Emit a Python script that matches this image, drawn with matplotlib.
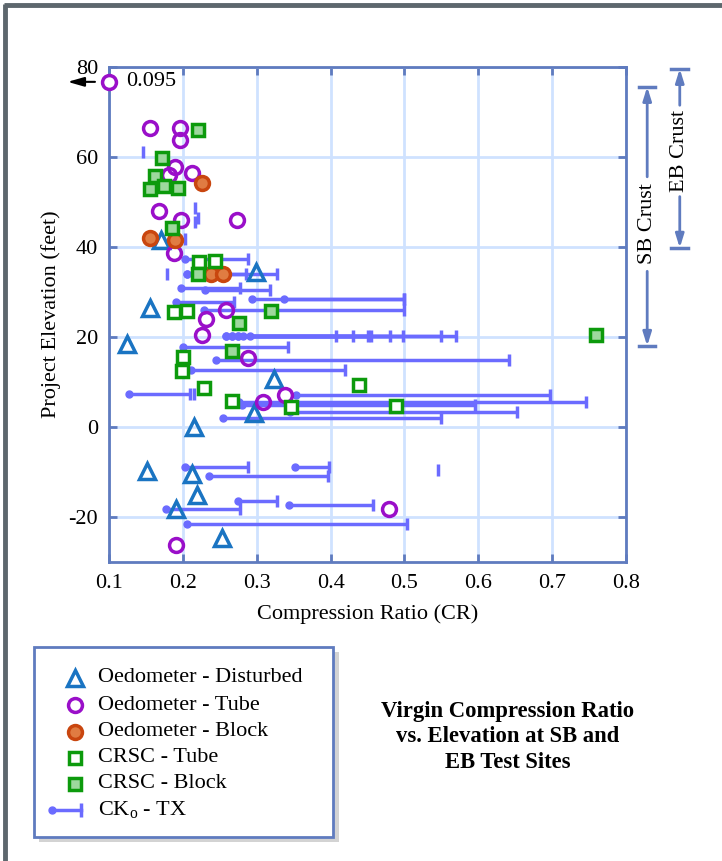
import numpy as np
import matplotlib
matplotlib.use("Agg")
import matplotlib.pyplot as plt
from matplotlib.patches import Rectangle

plt.rcParams['font.family'] = ['Liberation Serif', 'DejaVu Serif']
plt.rcParams['mathtext.fontset'] = 'custom'
plt.rcParams['mathtext.rm'] = 'Liberation Serif'
plt.rcParams['mathtext.it'] = 'Liberation Serif:italic'
plt.rcParams['axes.unicode_minus'] = False

# ---------------- data ----------------
dist_x = [0.171, 0.299, 0.156, 0.125, 0.323, 0.296, 0.215, 0.152, 0.212, 0.219, 0.191, 0.253]
dist_y = [41.5, 34.4, 26.5, 18.4, 10.6, 3.0, 0.0, -9.8, -10.5, -15.1, -18.3, -24.6]

otube_x = [0.156, 0.196, 0.196, 0.190, 0.181, 0.212, 0.168, 0.198, 0.273, 0.188,
           0.258, 0.231, 0.226, 0.288, 0.338, 0.309, 0.479, 0.191]
otube_y = [66.5, 66.5, 63.8, 57.8, 55.9, 56.4, 48.0, 46.0, 45.9, 38.6,
           25.9, 23.9, 20.4, 15.3, 7.1, 5.6, -18.3, -26.3]

oblock_x = [0.226, 0.155, 0.189, 0.238, 0.255]
oblock_y = [54.3, 41.9, 41.5, 34.1, 34.1]

ctube_x = [0.222, 0.244, 0.188, 0.205, 0.200, 0.199, 0.229, 0.266, 0.346, 0.439, 0.488]
ctube_y = [36.7, 36.9, 25.6, 25.7, 15.6, 12.4, 8.7, 5.8, 4.5, 9.3, 4.7]

cblock_x = [0.221, 0.172, 0.162, 0.175, 0.156, 0.193, 0.185, 0.220, 0.319, 0.276, 0.266, 0.759]
cblock_y = [66.0, 59.8, 55.8, 53.6, 52.8, 53.0, 44.2, 33.9, 25.7, 23.0, 16.9, 20.4]

# CKo - TX ranges (start dot -> end cap); nan start = cap only
ck_y = [37.3, 34.1, 34.1, 34.1, 30.8, 30.5, 27.8, 28.4, 28.4, 26.1,
        20.2, 20.2, 20.2, 20.2, 20.2, 20.2, 20.2, 20.2,
        17.8, 14.8, 12.7, 7.3, 7.3, 7.2, 5.6, 4.9, 3.3, 2.1,
        -9.0, -9.0, -10.9, -9.6, -16.4, -17.3, -18.3, -21.5,
        41.7, 61.0, 48.6, 46.4, 45.6]
ck_start = [0.203, 0.205, 0.205, np.nan, 0.197, 0.230, 0.191, 0.294, 0.337, 0.229,
            0.259, 0.267, 0.275, 0.282, 0.291, 0.259, 0.267, 0.275,
            0.200, 0.245, 0.211, 0.127, np.nan, 0.353, 0.276, 0.280, 0.345, 0.255,
            0.203, 0.352, 0.235, np.nan, 0.275, 0.344, 0.177, 0.205,
            0.189, np.nan, np.nan, np.nan, np.nan]
ck_end = [0.288, 0.286, 0.327, 0.178, 0.277, 0.318, 0.269, 0.500, 0.500, 0.500,
          0.408, 0.431, 0.451, 0.455, 0.481, 0.498, 0.549, 0.570,
          0.343, 0.641, 0.420, 0.209, 0.215, 0.697, 0.746, 0.595, 0.653, 0.550,
          0.288, 0.398, 0.396, 0.546, 0.328, 0.457, 0.277, 0.504,
          0.203, 0.146, 0.216, 0.220, 0.216]

# off-scale point
off_x, off_y, off_label = 0.1, 76.7, "0.095"

xticks = [0.1, 0.2, 0.3, 0.4, 0.5, 0.6, 0.7, 0.8]
yticks = [-20, 0, 20, 40, 60, 80]

legend_labels = ["Oedometer - Disturbed", "Oedometer - Tube", "Oedometer - Block",
                 "CRSC - Tube", "CRSC - Block", "CK$_{\\mathrm{o}}$ - TX"]
title_lines = "Virgin Compression Ratio\nvs. Elevation at SB and\nEB Test Sites"

# crust ranges (elevation)
sb_crust = (18.0, 75.6)
eb_crust = (39.8, 79.6)

# ---------------- styles ----------------
SPINE = '#5f7bbf'
GRID = '#cfe2ff'
BLUE = '#1a74c2'
PURPLE = '#9a0fc9'
OR_FACE = '#e07c42'
OR_EDGE = '#c9460f'
GREEN = '#0c9a0c'
LGREEN = '#9dd89d'
CK = '#6b6bff'
FS = 16

W, H = 722, 861
fig = plt.figure(figsize=(W / 100, H / 100), dpi=100)

# overlay axes in pixel coordinates
ov = fig.add_axes([0, 0, 1, 1], zorder=0)
ov.set_xlim(0, W)
ov.set_ylim(H, 0)
ov.axis('off')

ax = fig.add_axes([109 / W, 1 - 562 / H, (626 - 109) / W, (562 - 67) / H], zorder=2)
ax.set_xlim(0.1, 0.8)
ax.set_ylim(-30, 80)
ax.set_xticks(xticks)
ax.set_xticklabels([f"{v:g}" for v in xticks])
ax.set_yticks(yticks)
ax.grid(True, color=GRID, lw=2, zorder=0)
ax.set_axisbelow(True)
for s in ax.spines.values():
    s.set_color(SPINE)
    s.set_linewidth(2)
ax.tick_params(direction='in', length=6, width=2, color=SPINE, top=True, right=True,
               labelsize=FS, pad=8)
ax.tick_params(axis='x', pad=9)
ax.set_xlabel("Compression Ratio (CR)", fontsize=FS, labelpad=8)
ax.set_ylabel("Project Elevation (feet)", fontsize=FS, labelpad=5)

# CK0 lines
for y, a, b in zip(ck_y, ck_start, ck_end):
    if not np.isnan(a):
        ax.plot([a, b], [y, y], color=CK, lw=2.5, zorder=2, solid_capstyle='butt')
        ax.plot([a], [y], 'o', color=CK, ms=5, zorder=2)
    ax.plot([b], [y], '|', color=CK, ms=9, mew=2.5, zorder=2)

ms = 10
ax.plot(dist_x, dist_y, '^', ls='none', mfc='none', mec=BLUE, mew=2.5, ms=11, zorder=3)
ax.plot(otube_x, otube_y, 'o', ls='none', mfc='none', mec=PURPLE, mew=2.5, ms=ms, zorder=3)
ax.plot(oblock_x, oblock_y, 'o', ls='none', mfc=OR_FACE, mec=OR_EDGE, mew=2.5, ms=ms, zorder=3)
ax.plot(ctube_x, ctube_y, 's', ls='none', mfc='white', mec=GREEN, mew=2.5, ms=9, zorder=3)
ax.plot(cblock_x, cblock_y, 's', ls='none', mfc=LGREEN, mec=GREEN, mew=2.5, ms=9, zorder=3)

# off-scale point
ax.plot([off_x], [off_y], 'o', mfc='white', mec=PURPLE, mew=2.5, ms=ms, zorder=5, clip_on=False)
ax.annotate("", xy=(0.044, off_y), xytext=(0.081, off_y),
            arrowprops=dict(arrowstyle='-|>,head_width=0.2,head_length=0.7',
                            color='black', lw=1.5, shrinkA=0, shrinkB=0,
                            mutation_scale=14), annotation_clip=False)
ax.text(0.123, off_y, off_label, fontsize=FS, va='center', ha='left')

# crust annotations
tr = ax.get_yaxis_transform()


def crust(xa, lo, hi, text, tlo, thi):
    mid = 0.5 * (tlo + thi)
    ax.text(xa, mid, text, rotation=90, fontsize=FS, ha='center', va='center',
            transform=tr, clip_on=False)
    for start, end in [(thi, hi), (tlo, lo)]:
        ax.annotate("", xy=(xa, end), xytext=(xa, start), xycoords=tr, textcoords=tr,
                    arrowprops=dict(arrowstyle='-|>,head_width=0.25,head_length=0.8',
                                    color=SPINE, lw=2, shrinkA=0, shrinkB=0),
                    annotation_clip=False)
        ax.plot([xa - 0.016, xa + 0.016], [end, end], color=SPINE, lw=2.5,
                transform=tr, clip_on=False)


crust(1.041, sb_crust[0], sb_crust[1], "SB Crust", 34.6, 55.6)
crust(1.104, eb_crust[0], eb_crust[1], "EB Crust", 51.2, 71.5)

# outer frame
ov.plot([4, W], [5, 5], color='#5d676d', lw=3.5, solid_capstyle='butt')
ov.plot([5, 5], [4, H], color='#5d676d', lw=3.5, solid_capstyle='butt')

# legend box
ov.add_patch(Rectangle((39, 652), 300, 190, facecolor='#d3d3d3', edgecolor='none', zorder=1))
ov.add_patch(Rectangle((34, 647), 299, 190, facecolor='white', edgecolor=SPINE, lw=2, zorder=2))
rows = [678, 705, 732, 758, 784, 810]
mx, tx = 75, 98
ov.plot([mx], [rows[0]], '^', mfc='none', mec=BLUE, mew=2.5, ms=11, zorder=3)
ov.plot([mx], [rows[1]], 'o', mfc='none', mec=PURPLE, mew=2.5, ms=ms, zorder=3)
ov.plot([mx], [rows[2]], 'o', mfc=OR_FACE, mec=OR_EDGE, mew=2.5, ms=ms, zorder=3)
ov.plot([mx], [rows[3]], 's', mfc='white', mec=GREEN, mew=2.5, ms=9, zorder=3)
ov.plot([mx], [rows[4]], 's', mfc=LGREEN, mec=GREEN, mew=2.5, ms=9, zorder=3)
ov.plot([52, 81], [rows[5], rows[5]], color=CK, lw=2.5, zorder=3)
ov.plot([52], [rows[5]], 'o', color=CK, ms=5, zorder=3)
ov.plot([81], [rows[5]], '|', color=CK, ms=10, mew=2.5, zorder=3)
for r, lab in zip(rows, legend_labels):
    ov.text(tx, r, lab, fontsize=FS, va='center', ha='left', zorder=4)

fig.text(508 / W, 1 - 737 / H, title_lines, fontsize=16.3, fontweight='bold',
         ha='center', va='center', linespacing=1.28)

fig.savefig("out.png", dpi=100)
